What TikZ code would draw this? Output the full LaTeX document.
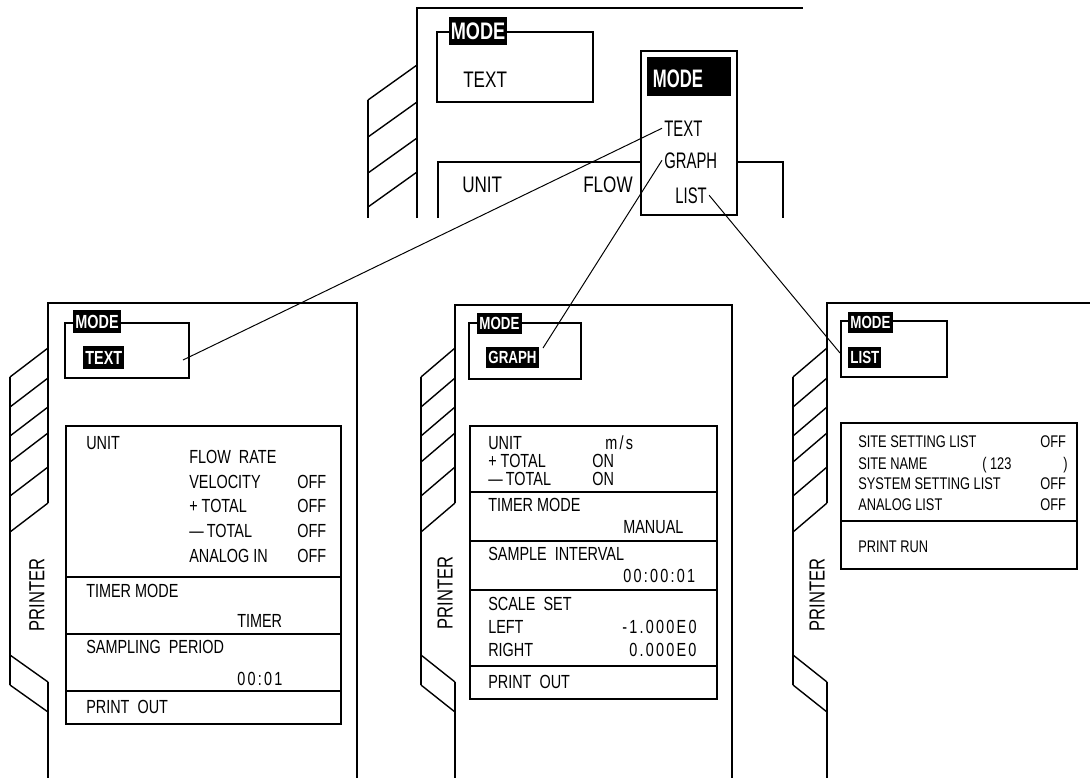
\documentclass[tikz,border=0pt]{standalone}
\usepackage{fontspec}
\setmainfont[FakeStretch=0.76]{Liberation Sans}
\newfontfamily\narrowfont[FakeStretch=0.66]{Liberation Sans}
\usepackage{tikz}
\usetikzlibrary{positioning}
\tikzset{
  body/.style={line width=1pt},
  frame/.style={line width=0.9pt},
  link/.style={line width=0.7pt},
  txt/.style={anchor=base west, inner sep=0pt, font=\fontsize{13.5}{16}\selectfont},
  stxt/.style={anchor=base west, inner sep=0pt, font=\fontsize{12}{14}\selectfont},
  btxt/.style={anchor=base west, inner sep=0pt, font=\fontsize{16}{19}\selectfont},
  ptxt/.style={anchor=base west, inner sep=1.5pt, font=\narrowfont\fontsize{16}{19}\selectfont},
  side/.style={rotate=90, inner sep=0pt, font=\fontsize{15.5}{18}\selectfont},
  sel/.style={anchor=west, fill=black, text=white, inner xsep=1.5pt,
              inner ysep=3.3pt, text height=9.6pt, text depth=0pt,
              font=\bfseries\fontsize{13.5}{16}\selectfont},
  ssel/.style={sel, inner ysep=3pt, text height=8.9pt,
               font=\bfseries\fontsize{12.5}{15}\selectfont},
}
\newcommand\dg{\kern1.6pt}

\begin{document}
\begin{tikzpicture}[x=0.25mm, y=-0.25mm]
  \useasboundingbox (0,0) rectangle (1090,778);

  % main display (top)
  \draw[body] (368,100) -- (368,218);
  \foreach \r in {65,102,138,172}
    \draw[body] (368,\r+35) -- (417,\r);
  \draw[body] (417,218) -- (417,8) -- (803,8);
  \draw[frame] (437,32) rectangle (593,102);
  \node[sel, anchor=center, inner ysep=3.85pt, text height=12.2pt,
        font=\bfseries\fontsize{17}{20}\selectfont] (mMode) at (478,31) {MODE};
  \node[btxt] (mText) at (463,87) {TEXT};
  \draw[frame] (438,218) -- (438,162) -- (783,162) -- (783,218);
  \node[btxt] (mUnit) at (462,192) {UNIT};
  \node[btxt] (mFlow) at (583,192) {FLOW};
  \draw[frame, fill=white] (641,51) rectangle (737,215);
  \fill (647,57) rectangle (731,96);
  \node[text=white, inner sep=0pt, font=\narrowfont\bfseries\fontsize{18}{21}\selectfont]
    (mHead) at (678,79) {MODE};
  \node[ptxt] (popText)  at (662,136) {TEXT};
  \node[ptxt] (popGraph) at (662,168) {GRAPH};
  \node[ptxt] (popList)  at (673,203) {LIST};

  % printer bodies and tabs
  \foreach \tx/\ex in {10/48, 421/455, 793/827}{
    \draw[body] (\tx,377) -- (\tx,685);
    \foreach \r in {348,378,407,433,467,503}
      \draw[body] (\tx,\r+29) -- (\ex,\r);
    \draw[body] (\tx,655) -- (\ex,682);
    \draw[body] (\tx,685) -- (\ex,712);
    \draw[body] (\ex,682) -- (\ex,778);
  }
  \draw[body] (48,503) -- (48,303) -- (357,303) -- (357,778);
  \draw[body] (455,503) -- (455,305) -- (732,305) -- (732,778);
  \draw[body] (827,503) -- (827,303) -- (1090,303);

  \node[side] (tPrn) at (37,595)  {PRINTER};
  \node[side] (gPrn) at (445,593) {PRINTER};
  \node[side] (lPrn) at (817,595) {PRINTER};

  % TEXT screen
  \draw[frame] (65,323) rectangle (189,378);
  \node[sel] (tMode) at (73,321.5) {MODE};
  \node[sel] (tSel) at (83,357.5) {TEXT\hspace{7pt}};
  \coordinate (tEnd) at (183,360);
  \draw[frame] (66,426) rectangle (341,724);
  \foreach \y in {577,634,691}
    \draw[frame] (66,\y) -- (341,\y);
  \node[txt] (tUnit) at (86,449)  {UNIT};
  \node[txt] (tFR)   at (189,463) {FLOW\ \ RATE};
  \node[txt] (tVel)  at (189,488) {VELOCITY};
  \node[txt] (tPT)   at (189,512) {+ TOTAL};
  \node[txt] (tMT)   at (189,537) {\textemdash\,TOTAL};
  \node[txt] (tAI)   at (189,562) {ANALOG IN};
  \foreach \n/\y in {tVelOff/488, tPTOff/512, tMTOff/537, tAIOff/562}
    \node[txt] (\n) at (297,\y) {OFF};
  \node[txt] (tTM)   at (86,597)  {TIMER MODE};
  \node[txt] (tTmr)  at (237,627) {TIMER};
  \node[txt] (tSP)   at (86,653)  {SAMPLING\ \ PERIOD};
  \node[txt] (tSPv)  at (237,685) {0\dg0\dg:\dg0\dg1};
  \node[txt] (tPO)   at (86,713)  {PRINT\ \ OUT};

  % GRAPH screen
  \draw[frame] (469,323) rectangle (581,379);
  \node[ssel] (gMode) at (477,323.5) {MODE};
  \node[ssel] (gSel) at (486,357.5) {GRAPH};
  \coordinate (gEnd) at (543,348);
  \draw[frame] (470,426) rectangle (717,699);
  \foreach \y in {492,541,590,666}
    \draw[frame] (470,\y) -- (717,\y);
  \node[txt] (gUnit) at (488,449) {UNIT};
  \node[txt] (gUv)   at (605,449) {m\dg/\dg s};
  \node[txt] (gPT)   at (488,467) {+ TOTAL};
  \node[txt] (gPTv)  at (592,467) {ON};
  \node[txt] (gMT)   at (488,485) {\textemdash\,TOTAL};
  \node[txt] (gMTv)  at (592,485) {ON};
  \node[txt] (gTM)   at (488,511) {TIMER MODE};
  \node[txt] (gTMv)  at (623,533) {MANUAL};
  \node[txt] (gSI)   at (488,560) {SAMPLE\ \ INTERVAL};
  \node[txt] (gSIv)  at (623,582) {0\dg0\dg:\dg0\dg0\dg:\dg0\dg1};
  \node[txt] (gSS)   at (488,610) {SCALE\ \ SET};
  \node[txt] (gLeft) at (488,633) {LEFT};
  \node[txt] (gLv)   at (622,633) {-\dg1\dg.\dg0\dg0\dg0\dg E\dg0};
  \node[txt] (gRight) at (488,656) {RIGHT};
  \node[txt] (gRv)   at (629,656) {0\dg.\dg0\dg0\dg0\dg E\dg0};
  \node[txt] (gPO)   at (488,688) {PRINT\ \ OUT};

  % LIST screen
  \draw[frame] (841,321) rectangle (947,377);
  \node[ssel] (lMode) at (848,322.5) {MODE};
  \node[ssel] (lSel) at (848,357.5) {LIST\hspace{6pt}};
  \coordinate (lEnd) at (840,353);
  \draw[frame] (841,423) rectangle (1077,569);
  \draw[frame] (841,521) -- (1077,521);
  \node[stxt] (lSSL) at (858,447) {SITE SETTING LIST};
  \node[stxt] (lSN)  at (858,469) {SITE NAME};
  \node[stxt] (lSNv) at (982,469) {( 123};
  \node[stxt] (lSNc) at (1063,469) {)};
  \node[stxt] (lSys) at (858,489) {SYSTEM SETTING LIST};
  \node[stxt] (lAL)  at (858,510) {ANALOG LIST};
  \foreach \n/\y in {lSSLOff/447, lSysOff/489, lALOff/510}
    \node[stxt] (\n) at (1040,\y) {OFF};
  \node[stxt] (lPR)  at (858,552) {PRINT RUN};

  \draw[link] (popText.west) -- (tEnd);
  \draw[link] (popGraph.west) -- (gEnd);
  \draw[link] (popList.east) -- (lEnd);
\end{tikzpicture}
\end{document}
